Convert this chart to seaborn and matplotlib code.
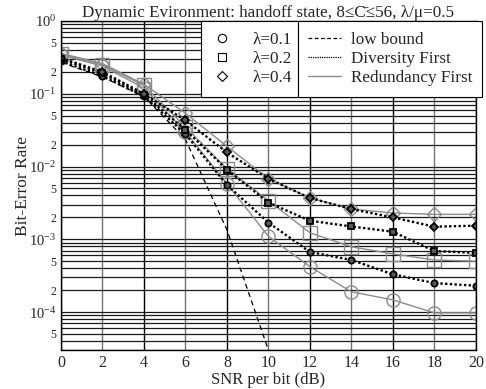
# BER vs SNR, handoff state - Diversity First vs Redundancy First

import numpy as np
import pandas as pd
import matplotlib
matplotlib.use("Agg")
import matplotlib.pyplot as plt
import matplotlib.ticker as mticker
from matplotlib.lines import Line2D
import seaborn as sns

snr = [0, 2, 4, 6, 8, 10, 12, 14, 16, 18, 20]
lambdas = ["0.1", "0.2", "0.4"]

# Diversity First (dotted, black filled markers)
div_01 = [0.28, 0.175, 0.092, 0.028, 0.0056, 0.0017, 0.00067, 0.00052, 0.00033, 0.00025, 0.00023]
div_02 = [0.30, 0.19, 0.097, 0.032, 0.0091, 0.0032, 0.0018, 0.0015, 0.00127, 0.00069, 0.00065]
div_04 = [0.31, 0.20, 0.10, 0.043, 0.0156, 0.0068, 0.0037, 0.0026, 0.0020, 0.00149, 0.00154]

# Redundancy First (solid gray, hollow markers)
red_01 = [0.34, 0.24, 0.12, 0.030, 0.0058, 0.0011, 0.00042, 0.00019, 0.000147, 0.0000975, 0.0000975]
red_02 = [0.35, 0.25, 0.13, 0.035, 0.0093, 0.0034, 0.00123, 0.00079, 0.00063, 0.00052, 0.00050]
red_04 = [0.36, 0.26, 0.135, 0.054, 0.019, 0.0068, 0.0037, 0.0026, 0.0023, 0.0022, 0.0022]

# low bound (dashed)
low_snr = [0, 2, 4, 6, 8, 10]
low_bound = [0.27, 0.17, 0.092, 0.0236, 0.00135, 0.00003]

markers = {"0.1": "o", "0.2": "s", "0.4": "D"}

rows = []
for lam, d, r in zip(lambdas, [div_01, div_02, div_04], [red_01, red_02, red_04]):
    for s, v in zip(snr, d):
        rows.append({"snr": s, "ber": v, "lam": lam, "scheme": "Diversity First"})
    for s, v in zip(snr, r):
        rows.append({"snr": s, "ber": v, "lam": lam, "scheme": "Redundancy First"})
df = pd.DataFrame(rows)
df_low = pd.DataFrame({"snr": low_snr, "ber": low_bound})

sns.set_style("ticks")
plt.rcParams["font.family"] = ["Liberation Serif", "DejaVu Serif"]
plt.rcParams["mathtext.fontset"] = "stix"

fig = plt.figure(figsize=(4.86, 3.89), dpi=100)
ax = fig.add_axes([0.1255, 0.100, 0.8535, 0.846])

# low bound
sns.lineplot(data=df_low, x="snr", y="ber", ax=ax, color="black",
             linestyle=(0, (4, 3)), linewidth=0.9)

for lam in lambdas:
    sub = df[(df["lam"] == lam) & (df["scheme"] == "Redundancy First")]
    sns.lineplot(data=sub, x="snr", y="ber", ax=ax, color="0.55", linewidth=1.0,
                 marker=markers[lam], markersize=9.5 if lam != "0.4" else 7,
                 markerfacecolor="none", markeredgecolor="0.55", markeredgewidth=1.0)
for lam in lambdas:
    sub = df[(df["lam"] == lam) & (df["scheme"] == "Diversity First")]
    sns.lineplot(data=sub, x="snr", y="ber", ax=ax, color="black", linewidth=1.7,
                 linestyle=(0, (1, 1)),
                 marker=markers[lam], markersize=4.5 if lam != "0.4" else 3.8,
                 markerfacecolor="0.35", markeredgecolor="black", markeredgewidth=1.3)

ax.set_yscale("log")
ax.set_xlim(0, 20)
ax.set_ylim(3e-5, 1)
ax.set_xticks(snr)
ax.yaxis.set_major_locator(mticker.LogLocator(base=10, numticks=10))
ax.yaxis.set_minor_locator(mticker.LogLocator(base=10, subs=np.arange(2, 10), numticks=20))


def minor_fmt(v, pos):
    m = v / 10 ** np.floor(np.log10(v) + 1e-9)
    if abs(m - 2) < 0.01:
        return "2"
    if abs(m - 5) < 0.01:
        return "5"
    return ""


ax.yaxis.set_minor_formatter(mticker.FuncFormatter(minor_fmt))
ax.tick_params(axis="y", which="minor", labelsize=8.5, length=0)
ax.tick_params(axis="y", which="major", labelsize=10.5, length=0)
ax.tick_params(axis="x", labelsize=11.5, length=0)

ax.grid(True, which="major", axis="x", color="black", linewidth=1.0)
for i, gl in enumerate(ax.xaxis.get_gridlines()):
    if i % 2 == 1:
        gl.set_color("0.45")
ax.grid(True, which="both", axis="y", color="0.1", linewidth=0.9)
for spine in ax.spines.values():
    spine.set_color("black")
    spine.set_linewidth(1.0)

ax.set_xlabel("SNR per bit (dB)", fontsize=12, labelpad=1)
ax.set_ylabel("Bit-Error Rate", fontsize=12.5, labelpad=-2)
ax.set_title("Dynamic Evironment: handoff state, 8\u2264C\u0304\u226456, \u03bb/\u03bc=0.5",
             fontsize=12.3, pad=1)

# legends
h1 = [Line2D([], [], linestyle="none", marker=markers[l],
             markersize=6 if l != "0.4" else 5,
             markerfacecolor="none", markeredgecolor="black", markeredgewidth=0.8)
      for l in lambdas]
leg1 = ax.legend(h1, ["λ=" + l for l in lambdas], loc="upper left",
                 bbox_to_anchor=(0.337, 0.754, 0.234, 0.246), mode="expand",
                 borderaxespad=0, fancybox=False,
                 edgecolor="black", framealpha=1, fontsize=12.3, handlelength=1.2,
                 labelspacing=0.2, borderpad=0.62, handletextpad=1.2)
leg1.get_frame().set_linewidth(0.8)
ax.add_artist(leg1)

h2 = [Line2D([], [], color="black", linestyle=(0, (3, 2)), linewidth=0.9),
      Line2D([], [], color="black", linestyle=(0, (1, 0.8)), linewidth=0.9),
      Line2D([], [], color="0.55", linewidth=1.0)]
leg2 = ax.legend(h2, ["low bound", "Diversity First", "Redundancy First"], loc="upper left",
                 bbox_to_anchor=(0.571, 0.754, 0.443, 0.246), mode="expand",
                 borderaxespad=0, fancybox=False,
                 edgecolor="black", framealpha=1, fontsize=12.3, handlelength=1.9,
                 labelspacing=0.2, borderpad=0.62, handletextpad=0.6)
leg2.get_frame().set_linewidth(0.8)

fig.savefig("out.png", dpi=100)
